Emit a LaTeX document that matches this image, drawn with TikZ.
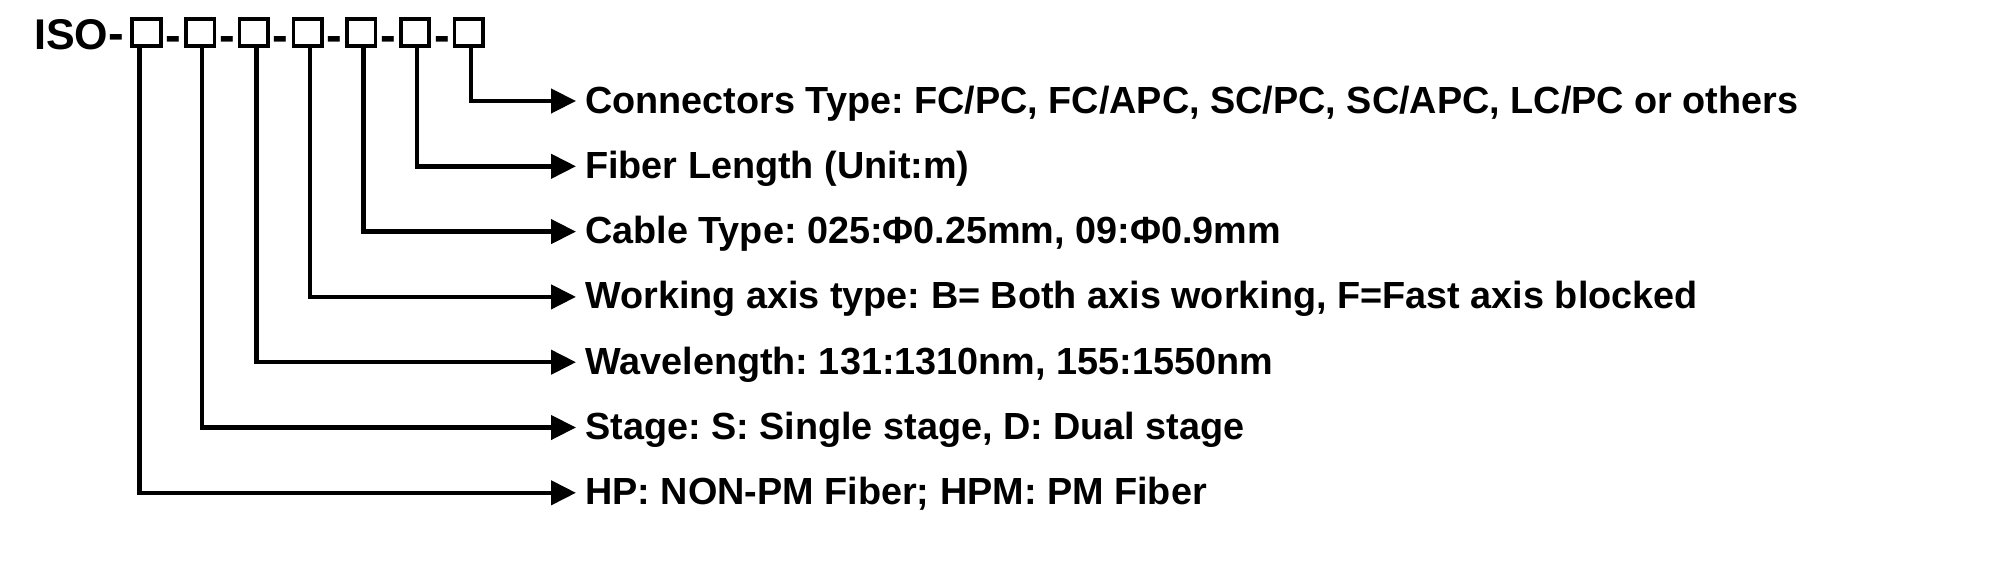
\documentclass[tikz,border=0pt]{standalone}
\usepackage{fontspec}
\setmainfont{Liberation Sans}
\usetikzlibrary{arrows.meta}
\frenchspacing
\begin{document}
\begin{tikzpicture}[x=1pt,y=-1pt,
  cell/.style={draw,line width=3.6pt,minimum width=28.5pt,minimum height=27pt,inner sep=0pt},
  head/.style={inner sep=0pt,font=\fontsize{43}{50}\selectfont\bfseries},
  dashmark/.style={inner sep=0pt,font=\fontsize{47}{50}\selectfont\bfseries},
  lbl/.style={anchor=base west,inner sep=0pt,font=\fontsize{37.8}{45}\selectfont\bfseries},
  conn/.style={line width=4.4pt,-{Triangle[length=25pt,width=24pt]}}]
\useasboundingbox[fill=white] (0,0) rectangle (2000,574);
% header
\node[head,anchor=base west] (iso) at (34,49) {ISO\fontsize{47}{50}\selectfont-};
\foreach \i in {1,...,7}{
  \node[cell] (b\i) at ({146.5+53.7*(\i-1)},32.5) {};
}
\foreach \i in {1,...,6}{
  \node[dashmark,anchor=base] (d\i) at ({146.5+53.7*(\i-0.5)},51) {-};
}
% labels
\node[lbl] (t1) at (585,113) {Connectors Type: FC/PC, FC/APC, SC/PC, SC/APC, LC/PC or others};
\node[lbl] (t2) at (585,178.3) {Fiber Length (Unit:m)};
\node[lbl] (t3) at (585,243.6) {Cable Type: 025:Φ0.25mm, 09:Φ0.9mm};
\node[lbl] (t4) at (585,308.9) {Working axis type: B= Both axis working, F=Fast axis blocked};
\node[lbl] (t5) at (585,374.2) {Wavelength: 131:1310nm, 155:1550nm};
\node[lbl] (t6) at (585,439.5) {Stage: S: Single stage, D: Dual stage};
\node[lbl] (t7) at (585,504.8) {HP: NON-PM Fiber; HPM: PM Fiber};
% connectors
\draw[conn] ([xshift=-7pt]b1.south) |- ([xshift=-9pt,yshift=12pt]t7.base west);
\draw[conn] ([xshift=1.5pt]b2.south) |- ([xshift=-9pt,yshift=12pt]t6.base west);
\draw[conn] ([xshift=2.5pt]b3.south) |- ([xshift=-9pt,yshift=12pt]t5.base west);
\draw[conn] ([xshift=2.5pt]b4.south) |- ([xshift=-9pt,yshift=12pt]t4.base west);
\draw[conn] ([xshift=2pt]b5.south) |- ([xshift=-9pt,yshift=12pt]t3.base west);
\draw[conn] ([xshift=2pt]b6.south) |- ([xshift=-9pt,yshift=12pt]t2.base west);
\draw[conn] ([xshift=2.5pt]b7.south) |- ([xshift=-9pt,yshift=12pt]t1.base west);
\end{tikzpicture}
\end{document}
